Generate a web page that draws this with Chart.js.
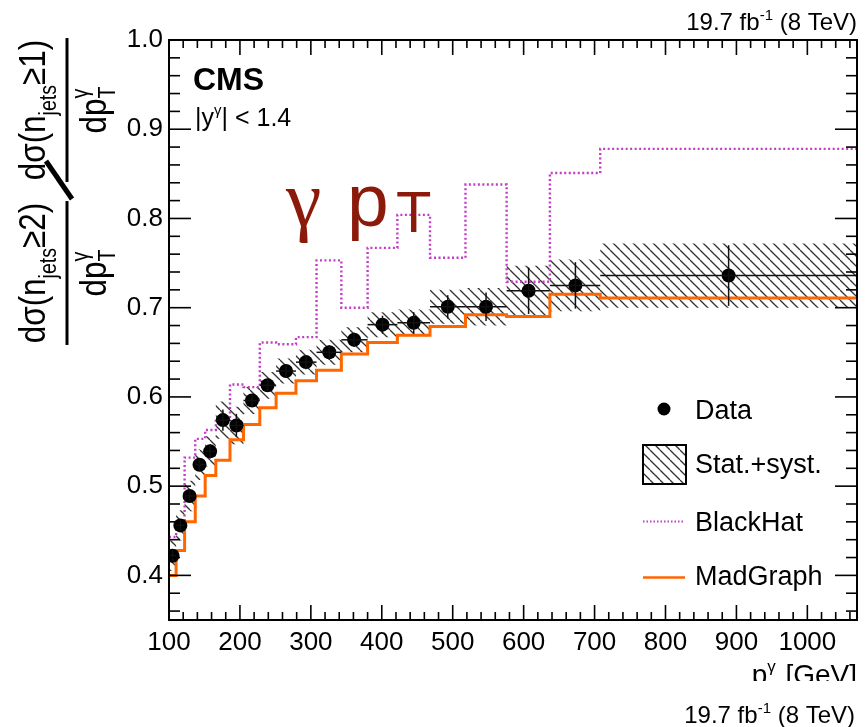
<!DOCTYPE html>
<html>
<head>
<meta charset="utf-8">
<script src="https://cdn.jsdelivr.net/npm/chart.js@4.4.1/dist/chart.umd.min.js"></script>
<style>
  html, body { margin: 0; padding: 0; background: #fff; }
  #wrap { width: 867px; height: 727px; }
</style>
</head>
<body>
<div id="wrap"><canvas id="c" width="867" height="727"></canvas></div>
<script>
// bin edges in photon pT [GeV]
const binEdges = [100, 110, 122, 137, 151, 166, 186, 205, 228, 251, 279, 308, 343, 380, 422, 468, 518, 576, 637, 708, 1070];
// measured ratio
const dataX = [105, 116, 129, 143, 158, 176, 195, 217, 239, 265, 293, 326, 361, 401, 445, 493, 547, 607, 673, 889];
const dataY = [0.422, 0.456, 0.489, 0.524, 0.539, 0.574, 0.568, 0.596, 0.613, 0.629, 0.639, 0.650, 0.664, 0.681, 0.683, 0.701, 0.701, 0.719, 0.725, 0.736];
const statErr = [0.006, 0.006, 0.006, 0.007, 0.008, 0.012, 0.013, 0.007, 0.007, 0.007, 0.008, 0.008, 0.008, 0.010, 0.012, 0.013, 0.016, 0.026, 0.026, 0.034];
// stat+syst band
const bandLow = [0.405, 0.439, 0.472, 0.507, 0.522, 0.553, 0.547, 0.581, 0.598, 0.615, 0.625, 0.636, 0.650, 0.667, 0.668, 0.682, 0.680, 0.691, 0.696, 0.700];
const bandHigh = [0.439, 0.473, 0.506, 0.541, 0.556, 0.595, 0.589, 0.611, 0.628, 0.643, 0.653, 0.664, 0.678, 0.695, 0.698, 0.720, 0.722, 0.747, 0.754, 0.772];
// predictions
const blackHat = [0.443, 0.452, 0.532, 0.553, 0.563, 0.576, 0.614, 0.611, 0.661, 0.659, 0.667, 0.753, 0.700, 0.767, 0.804, 0.756, 0.838, 0.729, 0.851, 0.878];
const madGraph = [0.400, 0.428, 0.460, 0.489, 0.512, 0.529, 0.552, 0.569, 0.588, 0.604, 0.618, 0.630, 0.648, 0.661, 0.669, 0.679, 0.692, 0.690, 0.715, 0.711];
// axis labels
const xTicks = [100, 200, 300, 400, 500, 600, 700, 800, 900, 1000];
const yTicks = [0.4, 0.5, 0.6, 0.7, 0.8, 0.9, 1.0];

const SANS = '"Liberation Sans", Arial, Helvetica, sans-serif';
const SERIF = '"Liberation Serif", "Times New Roman", serif';
const BH_COLOR = '#c23cc6';
const MG_COLOR = '#ff6600';

const canvas = document.getElementById('c');
const mainCtx = canvas.getContext('2d');

function makeHatch() {
  const t = document.createElement('canvas');
  t.width = 10; t.height = 10;
  const g = t.getContext('2d');
  g.strokeStyle = '#333';
  g.lineWidth = 1.3;
  for (const k of [-10, 0, 10]) {
    g.beginPath(); g.moveTo(k, 0); g.lineTo(k + 10, 10); g.stroke();
  }
  return mainCtx.createPattern(t, 'repeat');
}
const hatch = makeHatch();

function histPoints(vals) {
  const pts = vals.map((v, i) => ({ x: binEdges[i], y: v }));
  pts.push({ x: binEdges[binEdges.length - 1], y: vals[vals.length - 1] });
  return pts;
}

// draw text pieces in a row; piece.stack = don't advance (sub/sup stacking)
function runText(ctx, parts, x, y, align) {
  let total = 0, adv = 0;
  for (const p of parts) {
    ctx.font = (p.bold ? 'bold ' : '') + p.size + 'px ' + (p.family || SANS);
    const w = ctx.measureText(p.t).width;
    if (p.stack) { adv = Math.max(adv, w); continue; }
    total += Math.max(w, adv); adv = 0;
  }
  total += adv;
  let cx = align === 'right' ? x - total : align === 'center' ? x - total / 2 : x;
  adv = 0;
  for (const p of parts) {
    ctx.font = (p.bold ? 'bold ' : '') + p.size + 'px ' + (p.family || SANS);
    ctx.fillText(p.t, cx, y + (p.dy || 0));
    const w = ctx.measureText(p.t).width;
    if (p.stack) { adv = Math.max(adv, w); continue; }
    cx += Math.max(w, adv); adv = 0;
  }
  return total;
}

function line(ctx, x1, y1, x2, y2) {
  ctx.beginPath(); ctx.moveTo(x1, y1); ctx.lineTo(x2, y2); ctx.stroke();
}

const errorBars = {
  id: 'errorBars',
  afterDatasetsDraw(chart) {
    const { ctx, scales: { x, y } } = chart;
    ctx.save();
    ctx.strokeStyle = '#111';
    ctx.lineWidth = 1.5;
    dataY.forEach((v, i) => {
      const px = x.getPixelForValue(dataX[i]);
      line(ctx, x.getPixelForValue(binEdges[i]), y.getPixelForValue(v), x.getPixelForValue(binEdges[i + 1]), y.getPixelForValue(v));
      line(ctx, px, y.getPixelForValue(v - statErr[i]), px, y.getPixelForValue(v + statErr[i]));
    });
    ctx.restore();
  }
};

const decor = {
  id: 'decor',
  afterDraw(chart) {
    const { ctx, chartArea: a, scales: { x, y } } = chart;
    ctx.save();
    // frame and inward ticks
    ctx.strokeStyle = '#000';
    ctx.lineWidth = 1.6;
    for (let v = 100; v <= 1070; v += 20) {
      const px = x.getPixelForValue(v);
      const L = v % 100 === 0 ? 15 : 8;
      line(ctx, px, a.bottom, px, a.bottom - L);
      line(ctx, px, a.top, px, a.top + L);
    }
    for (let k = 18; k <= 50; k++) {
      const py = y.getPixelForValue(k / 50);
      const L = k % 5 === 0 ? 22 : 11;
      line(ctx, a.left, py, a.left + L, py);
      line(ctx, a.right, py, a.right - L, py);
    }
    ctx.lineWidth = 2;
    ctx.strokeRect(a.left, a.top, a.right - a.left, a.bottom - a.top);

    ctx.fillStyle = '#000';
    ctx.textBaseline = 'alphabetic';
    ctx.textAlign = 'left';

    // CMS label
    runText(ctx, [{ t: 'CMS', size: 32, bold: true }], 193, 90, 'left');
    runText(ctx, [
      { t: '|y', size: 25 },
      { t: '\u03b3', size: 15, dy: -11 },
      { t: '| < 1.4', size: 25 }
    ], 195, 126, 'left');

    // luminosity
    const lumi = [
      { t: '19.7 fb', size: 24 },
      { t: '-1', size: 15, dy: -10 },
      { t: ' (8 TeV)', size: 24 }
    ];
    runText(ctx, lumi, 857, 30, 'right');
    runText(ctx, lumi, 855, 723, 'right');

    // big label
    ctx.fillStyle = '#8b1a0b';
    ctx.font = '80px ' + SERIF;
    ctx.fillText('\u03b3', 286, 226);
    ctx.font = '75px ' + SANS;
    ctx.fillText('p', 347, 226);
    ctx.font = '58px ' + SANS;
    ctx.fillText('T', 396, 232);
    ctx.fillStyle = '#000';

    // x title (cut at the bottom)
    runText(ctx, [
      { t: 'p', size: 28 },
      { t: 'T', size: 17, dy: 11, stack: true },
      { t: '\u03b3', size: 17, dy: -12 },
      { t: ' [GeV]', size: 28 }
    ], 857, 684, 'right');
    ctx.fillStyle = '#fff';
    ctx.fillRect(700, 681, 167, 20);
    ctx.fillStyle = '#000';

    // y title, rotated and slightly condensed
    ctx.save();
    ctx.rotate(-Math.PI / 2);
    const SX = 0.85;
    ctx.scale(SX, 1);
    const drawFrac = (cy, n) => {
      const w = runText(ctx, [
        { t: 'd\u03c3(n', size: 37 },
        { t: 'jets', size: 23, dy: 11 },
        { t: '\u2265' + n + ')', size: 37 }
      ], -cy / SX, 45, 'center');
      runText(ctx, [
        { t: 'dp', size: 37 },
        { t: 'T', size: 23, dy: 9, stack: true },
        { t: '\u03b3', size: 23, dy: -18 }
      ], -cy / SX, 106, 'center');
      ctx.lineWidth = 3;
      line(ctx, -cy / SX - w / 2 - 2, 67, -cy / SX + w / 2 + 2, 67);
    };
    drawFrac(273, '2');
    drawFrac(110, '1');
    ctx.restore();
    ctx.lineWidth = 5;
    ctx.lineCap = 'butt';
    line(ctx, 46, 161, 72, 199);

    // legend
    ctx.fillStyle = '#000';
    ctx.beginPath(); ctx.arc(664, 409, 6.5, 0, Math.PI * 2); ctx.fill();
    ctx.fillStyle = hatch;
    ctx.fillRect(643, 445, 43, 39);
    ctx.lineWidth = 2;
    ctx.strokeStyle = '#000';
    ctx.strokeRect(643, 445, 43, 39);
    ctx.strokeStyle = BH_COLOR;
    ctx.setLineDash([1.5, 2]);
    line(ctx, 643, 521.5, 684, 521.5);
    ctx.setLineDash([]);
    ctx.strokeStyle = MG_COLOR;
    ctx.lineWidth = 2.5;
    line(ctx, 643, 577.5, 685, 577.5);
    ctx.fillStyle = '#000';
    ctx.font = '27px ' + SANS;
    ctx.fillText('Data', 695, 419);
    ctx.fillText('Stat.+syst.', 695, 473);
    ctx.fillText('BlackHat', 695, 531);
    ctx.fillText('MadGraph', 695, 585);
    ctx.restore();
  }
};

new Chart(canvas, {
  type: 'line',
  data: {
    datasets: [
      { label: 'Data', data: dataX.map((v, i) => ({ x: v, y: dataY[i] })), showLine: false,
        pointRadius: 7, pointBackgroundColor: '#000', pointBorderWidth: 0 },
      { label: 'MadGraph', data: histPoints(madGraph), stepped: 'before', borderColor: MG_COLOR,
        borderWidth: 3, pointRadius: 0, fill: false },
      { label: 'BlackHat', data: histPoints(blackHat), stepped: 'before', borderColor: BH_COLOR,
        borderWidth: 2.4, borderDash: [2, 2.5], pointRadius: 0, fill: false },
      { label: 'band low', data: histPoints(bandLow), stepped: 'before', borderColor: 'rgba(0,0,0,0)',
        borderWidth: 1, pointRadius: 0, fill: false },
      { label: 'Stat.+syst.', data: histPoints(bandHigh), stepped: 'before', borderColor: 'rgba(0,0,0,0)',
        borderWidth: 1, pointRadius: 0, fill: '-1', backgroundColor: hatch }
    ]
  },
  options: {
    responsive: false,
    animation: false,
    devicePixelRatio: 1,
    layout: { padding: { top: 40, right: 10, left: 0, bottom: 0 } },
    plugins: { legend: { display: false }, tooltip: { enabled: false } },
    scales: {
      x: {
        type: 'linear', min: 100, max: 1070,
        grid: { display: false, drawTicks: false }, border: { display: false },
        ticks: { color: '#000', font: { family: SANS, size: 26 }, padding: 7, maxRotation: 0, autoSkip: false,
                 callback: v => String(v) },
        afterBuildTicks: s => { s.ticks = xTicks.map(v => ({ value: v })); },
        afterFit: s => { s.height = 107; }
      },
      y: {
        type: 'linear', min: 0.35, max: 1.0,
        grid: { display: false, drawTicks: false }, border: { display: false },
        ticks: { color: '#000', font: { family: SANS, size: 26 }, padding: 6, callback: v => v.toFixed(1) },
        afterBuildTicks: s => { s.ticks = yTicks.map(v => ({ value: v })); },
        afterFit: s => { s.width = 169; }
      }
    }
  },
  plugins: [errorBars, decor]
});
</script>
</body>
</html>
